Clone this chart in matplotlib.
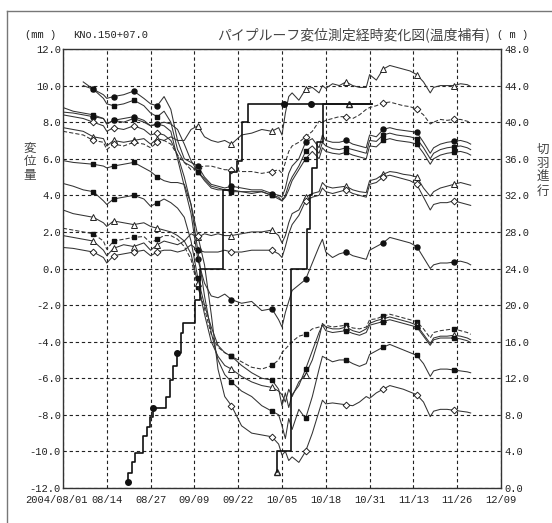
import numpy as np
import matplotlib
matplotlib.use("Agg")
import matplotlib.pyplot as plt
from matplotlib.lines import Line2D
from matplotlib.transforms import ScaledTranslation

plt.rcParams['font.family'] = ['Liberation Mono', 'Noto Sans CJK JP', 'DejaVu Sans']

# days counted from 2004/08/01
days = [0, 3, 6, 9, 12, 13, 15, 18, 21, 24,
        26, 28, 30, 32, 34, 36, 38, 40, 42, 44,
        46, 48, 50, 53, 56, 59, 62, 64, 65, 66,
        67, 68, 70, 72, 74, 76, 77, 78, 80, 82,
        84, 86, 88, 90, 91, 93, 95, 97, 99, 101,
        103, 105, 107, 109, 110, 112, 114, 116, 118, 120,
        121]

nan = np.nan
# displacement (mm), one list per gauge
s1 = [7.7, 7.6, 7.5, 7.2, 7.1, 6.7, 7.0, 6.9, 7.0, 7.1,
      6.8, 7.1, 7.0, 7.2, 7.0, 7.0, 7.6, 7.8, 7.2, 7.0,
      6.9, 7.0, 6.8, 7.3, 7.4, 7.6, 7.5, 7.7, 7.3, 8.5,
      9.4, 9.6, 9.2, 9.8, 9.9, 9.6, 10.0, 9.85, 10.1, 10.0,
      10.2, 10.0, 9.9, 9.9, 10.6, 10.3, 10.9, 11.1, 11.0, 10.9,
      10.8, 10.6, 10.2, 9.6, 9.9, 10.0, 10.0, 10.0, 10.1, 10.05,
      9.95]
s2 = [7.5, 7.4, 7.3, 7.0, 6.9, 6.5, 6.8, 6.7, 6.9, 6.8,
      6.6, 6.9, 7.0, 6.8, 6.2, 5.8, 5.4, 5.5, 5.6, 5.6,
      5.5, 5.4, 5.4, 5.3, 5.3, 5.2, 5.3, 5.4, 5.2, 5.8,
      6.4, 6.7, 6.9, 7.2, 7.5, 8.05, 8.0, 8.1, 8.2, 8.3,
      8.3, 8.2, 8.4, 8.7, 8.8, 8.9, 9.05, 9.1, 9.0, 8.9,
      8.85, 8.7, 8.4, 7.9, 8.0, 8.15, 8.1, 8.15, 8.15, 8.05,
      8.0]
s3 = [nan, nan, 10.2, 9.8, 9.5, 9.3, 9.4, 9.5, 9.7, 9.3,
      9.0, 8.9, 9.4, 8.7, 7.0, 6.0, 5.8, 5.6, 5.0, 4.6,
      4.5, 4.4, 4.5, 4.4, 4.3, 4.3, 4.1, 4.0, 3.9, 4.4,
      5.2, 5.6, 6.0, 6.9, 7.1, 6.6, 7.3, 7.0, 6.9, 6.9,
      7.0, 6.8, 6.7, 6.6, 7.3, 7.2, 7.6, 7.7, 7.6, 7.55,
      7.5, 7.45, 6.9, 6.3, 6.6, 6.8, 6.9, 6.95, 7.0, 6.9,
      6.8]
s4 = [nan, nan, 10.0, 9.8, 9.3, 9.0, 8.9, 9.0, 9.2, 8.9,
      8.5, 8.3, 8.6, 8.0, 6.5, 5.8, 5.6, 5.3, 4.8, 4.4,
      4.3, 4.3, 4.3, 4.2, 4.2, 4.2, 4.0, 3.9, 3.7, 4.0,
      4.6, 5.0, 5.6, 6.4, 6.7, 6.3, 6.9, 6.7, 6.55, 6.5,
      6.6, 6.5, 6.4, 6.3, 7.0, 6.95, 7.3, 7.4, 7.3, 7.25,
      7.2, 7.1, 6.6, 6.0, 6.3, 6.5, 6.6, 6.65, 6.7, 6.6,
      6.5]
s5 = [8.8, 8.6, 8.5, 8.4, 8.2, 7.9, 8.1, 8.0, 8.2, 8.0,
      7.8, 7.9, 8.0, 7.9, 7.6, 6.8, 5.9, 5.3, 4.9, 4.5,
      4.4, 4.3, 4.2, 4.2, 4.1, 4.2, 4.0, 3.8, 3.7, 3.9,
      4.3, 4.8, 5.4, 6.0, 6.4, 6.0, 6.6, 6.4, 6.3, 6.25,
      6.35, 6.2, 6.1, 6.0, 6.7, 6.65, 7.0, 7.1, 7.0, 6.95,
      6.9, 6.8, 6.3, 5.7, 6.0, 6.2, 6.3, 6.35, 6.4, 6.3,
      6.2]
s6 = [1.8, 1.7, 1.6, 1.5, 1.0, 0.7, 1.1, 1.3, 1.2, 1.4,
      1.0, 1.3, 1.5, 1.4, 1.3, 1.5, 1.9, 1.7, 1.9, 1.8,
      1.9, 1.8, 1.8, 1.9, 2.0, 2.0, 2.1, 1.8, 1.4, 1.8,
      2.5, 3.0, 3.2, 3.9, 4.1, 4.2, 4.7, 4.5, 4.4, 4.45,
      4.5, 4.3, 4.2, 4.15, 4.8, 4.9, 5.15, 5.3, 5.25, 5.15,
      5.1, 5.0, 4.4, 3.95, 4.2, 4.4, 4.5, 4.6, 4.7, 4.6,
      4.55]
s7 = [1.15, 1.1, 1.0, 0.9, 0.6, 0.3, 0.7, 0.8, 0.9, 1.0,
      0.7, 0.9, 1.0, 1.0, 0.9, 1.0, 1.3, 1.0, 0.9, 0.9,
      0.9, 1.0, 0.9, 0.9, 1.0, 1.0, 1.0, 0.8, 0.6, 1.2,
      1.9, 2.4, 2.9, 3.7, 3.9, 4.0, 4.4, 4.2, 4.1, 4.2,
      4.3, 4.1, 4.0, 3.9, 4.6, 4.7, 5.0, 5.1, 5.0, 4.9,
      4.8, 4.6, 3.9, 3.2, 3.5, 3.6, 3.6, 3.7, 3.6, 3.5,
      3.45]
s8 = [8.55, 8.5, 8.4, 8.3, 8.2, 7.9, 8.1, 8.2, 8.3, 8.1,
      7.8, 7.9, 7.8, 7.5, 6.0, 4.5, 3.0, 0.5, -0.8, -1.5,
      -1.6, -1.4, -1.7, -1.9, -1.8, -2.3, -2.2, -2.8, -3.2, -2.4,
      -1.8, -1.2, -0.9, -0.6, 0.3, 1.2, 1.6, 0.9, 0.6, 0.8,
      0.9, 0.7, 0.6, 0.5, 1.0, 1.2, 1.4, 1.7, 1.6, 1.5,
      1.4, 1.2, 0.6, 0.0, 0.2, 0.3, 0.3, 0.35, 0.4, 0.3,
      0.2]
s9 = [2.2, 2.1, 2.0, 1.9, 1.5, 1.05, 1.5, 1.6, 1.7, 1.75,
      1.4, 1.6, 1.8, 1.8, 1.6, 1.2, 0.5, -1.0, -2.2, -3.6,
      -4.3, -4.6, -4.8, -5.1, -5.4, -5.5, -5.3, -5.0, -4.6, -4.4,
      -4.2, -4.0, -3.7, -3.6, -3.3, -3.2, -3.1, -3.1, -3.2, -3.15,
      -3.1, -3.25, -3.3, -3.2, -2.8, -2.75, -2.6, -2.5, -2.6, -2.7,
      -2.8, -2.9, -3.3, -3.8, -3.5, -3.4, -3.35, -3.3, -3.4, -3.5,
      -3.6]
s10 = [3.2, 3.0, 2.9, 2.8, 2.5, 2.3, 2.6, 2.5, 2.4, 2.5,
       2.3, 2.2, 2.1, 2.0, 1.8, 1.5, 0.8, -0.8, -2.5, -4.0,
       -4.8, -5.3, -5.5, -5.9, -6.2, -6.4, -6.5, -6.7, -6.9, -7.3,
       -6.6, -7.0, -6.2, -5.8, -5.0, -3.8, -3.0, -3.2, -3.3, -3.3,
       -3.2, -3.4, -3.5, -3.3, -3.0, -2.85, -2.75, -2.65, -2.75, -2.85,
       -2.95, -3.1, -3.6, -4.1, -3.8, -3.7, -3.7, -3.65, -3.7, -3.8,
       -3.9]
s11 = [4.65, 4.5, 4.3, 4.2, 3.7, 3.5, 3.8, 3.9, 4.0, 3.8,
       3.4, 3.6, 3.8, 3.6, 3.3, 2.8, 1.5, -0.5, -2.0, -3.2,
       -4.2, -4.6, -4.8, -5.3, -5.7, -6.0, -6.1, -6.6, -7.5, -6.8,
       -7.6, -6.9, -6.4, -5.5, -4.5, -3.5, -3.1, -3.4, -3.5, -3.45,
       -3.4, -3.55, -3.65, -3.5, -3.1, -3.0, -2.9, -2.8, -2.9, -3.0,
       -3.1, -3.2, -3.7, -4.2, -3.9, -3.8, -3.8, -3.8, -3.85, -3.95,
       -4.05]
s12 = [5.9, 5.8, 5.75, 5.7, 5.6, 5.5, 5.6, 5.7, 5.8, 5.5,
       5.3, 5.0, 4.8, 4.7, 4.7, 4.6, 3.5, 1.0, -1.5, -3.5,
       -5.0, -5.8, -6.2, -6.7, -7.0, -7.5, -7.8, -8.0, -8.6, -9.3,
       -8.2, -8.8, -7.7, -8.2, -7.0, -5.5, -4.8, -4.9, -5.1, -5.0,
       -5.0, -5.2, -5.35, -5.2, -4.7, -4.5, -4.3, -4.15, -4.3, -4.45,
       -4.6, -4.75, -5.2, -5.9, -5.6, -5.5, -5.5, -5.55, -5.6, -5.65,
       -5.7]
s13 = [8.4, 8.3, 8.2, 8.0, 7.8, 7.5, 7.7, 7.6, 7.8, 7.6,
       7.3, 7.4, 7.3, 7.0, 6.2, 5.0, 3.5, 1.8, 0.2, -2.5,
       -5.5, -7.0, -7.5, -8.6, -9.0, -9.1, -9.2, -9.6, -10.2, -10.0,
       -10.5, -10.3, -10.6, -10.0, -9.0, -7.8, -7.2, -7.4, -7.35, -7.4,
       -7.45, -7.5, -7.3, -7.0, -7.1, -6.8, -6.6, -6.4, -6.5, -6.6,
       -6.75, -6.9, -7.3, -8.1, -7.8, -7.7, -7.7, -7.75, -7.8, -7.85,
       -7.9]

# face advance (m), step lines
face1_day = [19.3, 19.4, 20.5, 21.3, 23.8, 24.8, 25.8, 26.7, 30.7, 31.7, 32.7, 33.7,
             35.1, 35.6, 39.1, 40.6, 47.4, 49.5, 51.5, 53.0, 54.8, 65.7, 73.7, 85.0, 91.8]
face1_m = [0.7, 1.6, 2.8, 3.8, 5.7, 6.7, 7.8, 8.8, 10.0, 11.8, 13.3, 14.8,
           17.0, 18.0, 20.6, 24.0, 32.6, 34.5, 35.7, 40.0, 42.0, 42.0, 42.0, 42.0, 42.0]
face2_day = [63.4, 63.5, 67.8, 72.3, 73.2, 74.0, 75.5, 77.3, 91.8]
face2_m = [1.8, 4.0, 24.0, 28.3, 32.0, 35.0, 37.8, 42.0, 42.0]

xtick_days = [0, 13, 26, 39, 52, 65, 78, 91, 104, 117, 130]
xtick_labels = ['2004/08/01', '08/14', '08/27', '09/09', '09/22', '10/05',
                '10/18', '10/31', '11/13', '11/26', '12/09']

fig = plt.figure(figsize=(5.52, 5.23), dpi=100)
ax = fig.add_axes([63 / 552, 1 - 488 / 523, 438 / 552, 439 / 523])

mark_idx = [3, 6, 8, 11, 17, 22, 26, 33, 40, 46, 51, 57]
styles = {
    'o': dict(marker='o', ms=3.6, mfc='#111', mec='#111'),
    's': dict(marker='s', ms=3.4, mfc='#111', mec='#111'),
    '^': dict(marker='^', ms=4.3, mfc='white', mec='#222', mew=0.7),
    'D': dict(marker='D', ms=3.4, mfc='white', mec='#222', mew=0.7),
}
series = [(s1, '^', False), (s2, 'D', True), (s3, 'o', False), (s4, 's', False),
          (s5, 's', False), (s6, '^', False), (s7, 'D', False), (s8, 'o', False),
          (s9, 's', True), (s10, '^', False), (s11, 's', False), (s12, 's', False),
          (s13, 'D', False)]
for vals, mk, dashed in series:
    ls = (0, (4, 2)) if dashed else '-'
    ax.plot(days, vals, color='#333', lw=0.75, ls=ls,
            markevery=mark_idx, zorder=3, **styles[mk])

ax.set_xlim(0, 130)
ax.set_ylim(-12, 12)
ax.set_xticks(xtick_days)
ax.set_xticklabels(xtick_labels)
ax.set_yticks(np.arange(-12, 13, 2))
ax.set_yticklabels(['%.1f' % v for v in np.arange(-12, 13, 2)])
ax.grid(True, color='#222', lw=0.8, ls=(0, (3, 2.5)))
ax.set_axisbelow(True)
ax.tick_params(length=0, labelsize=7.5, colors='#222')
ax.tick_params(axis='y', pad=1.5)
ax.tick_params(axis='x', pad=5)
first = ax.get_xticklabels()[0]
first.set_transform(first.get_transform() + ScaledTranslation(-7 / 100, 0, fig.dpi_scale_trans))
for sp in ax.spines.values():
    sp.set_color('#333')
    sp.set_linewidth(1.0)

ax2 = ax.twinx()
ax2.set_ylim(0, 48)
ax2.set_yticks(np.arange(0, 49, 4))
ax2.set_yticklabels(['%.1f' % v for v in np.arange(0, 49, 4)])
ax2.tick_params(length=0, labelsize=7.5, colors='#222', pad=2.5)
for sp in ax2.spines.values():
    sp.set_visible(False)
ax2.plot(face1_day, face1_m, drawstyle='steps-post', color='#111', lw=1.2, zorder=4)
ax2.plot(face2_day, face2_m, drawstyle='steps-post', color='#111', lw=1.2, zorder=4)
ax2.plot(face1_day, face1_m, ls='none', marker='o', ms=4.0, color='#111',
         markevery=[0, 7, 11, 21, 22])
ax2.plot(face1_day, face1_m, ls='none', marker='^', ms=4.3, mfc='white', mec='#222',
         markevery=[23])
ax2.plot(face2_day, face2_m, ls='none', marker='^', ms=4.3, mfc='white', mec='#222',
         markevery=[0])

# header texts
ty = 1 - 35 / 523
fig.text(41 / 552, ty, '(mm )', ha='center', va='center', fontsize=7.5, color='#222')
fig.text(111 / 552, ty, 'KNo.150+07.0', ha='center', va='center', fontsize=7.5, color='#222')
fig.text(490 / 552, ty, 'パイプルーフ変位測定経時変化図(温度補有)', ha='right', va='center',
         fontsize=10, color='#444', family=['Noto Sans CJK JP', 'DejaVu Sans'])
fig.text(497 / 552, ty, '( m )', ha='left', va='center', fontsize=7.5, color='#222')
fig.text(30 / 552, 1 - 162 / 523, '変\n位\n量', ha='center', va='center', fontsize=9,
         linespacing=1.1, color='#444', family=['Noto Sans CJK JP', 'DejaVu Sans'])
fig.text(543 / 552, 1 - 170 / 523, '切\n羽\n進\n行', ha='center', va='center', fontsize=9,
         linespacing=1.1, color='#444', family=['Noto Sans CJK JP', 'DejaVu Sans'])

# scan frame (top and left)
fig.add_artist(Line2D([7 / 552, 1.0], [1 - 11 / 523, 1 - 11 / 523], color='#777', lw=1.0))
fig.add_artist(Line2D([7 / 552, 7 / 552], [0.0, 1 - 11 / 523], color='#777', lw=1.0))

fig.savefig('out.png', dpi=100)
